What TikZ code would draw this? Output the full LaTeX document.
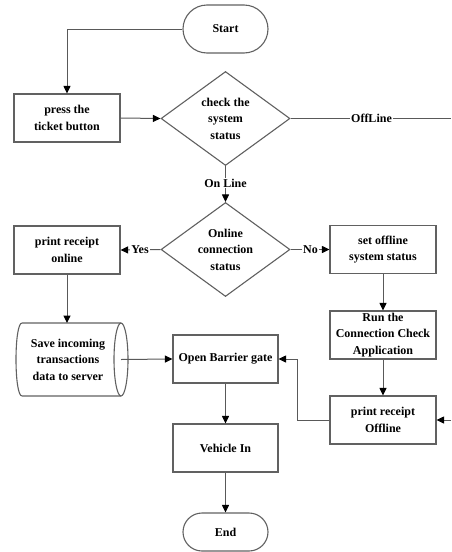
\documentclass[tikz,border=0pt]{standalone}
\usepackage{fontspec}
\setmainfont{Liberation Serif}[BoldFont={Liberation Serif Bold}]
\usetikzlibrary{shapes.geometric,arrows.meta}
\tikzset{
  txt/.style={font=\fontsize{12}{16.5}\selectfont\bfseries},
  base/.style={txt, draw=black!62, line width=1.1pt, align=center, inner sep=0pt},
  proc/.style={base, rectangle, minimum width=106pt, minimum height=48pt},
  term/.style={base, rectangle, minimum width=85pt},
  dec/.style={base, diamond, aspect=1.4, minimum width=129pt, minimum height=94pt},
  conn/.style={draw=black!65, line width=1pt},
  arr/.style={conn, -{Triangle[length=7.5pt,width=7pt,color=black]}},
  lab/.style={txt, fill=white, inner sep=1pt}
}
\begin{document}
\begin{tikzpicture}[x=1pt,y=-1pt]
\useasboundingbox (0,0) rectangle (451,552);
\fill[white] (0,0) rectangle (451,552);

% nodes
\node[term, minimum height=48pt, rounded corners=24pt] (start) at (225.5,29) {Start};
\node[proc] (press) at (67,118) {press the\\ticket button};
\node[dec] (check) at (225.5,118.5) {check the\\system\\status};
\node[dec] (online) at (225.5,249.5) {Online\\connection\\status};
\node[proc] (printon) at (67,250) {print receipt\\online};
\node[proc] (setoff) at (383,249.5) {set offline\\system status};
\node[proc] (run) at (383,335) {Run the\\Connection Check\\Application};
\node[proc] (printoff) at (383,420) {print receipt\\Offline};
\node[proc, minimum width=105pt] (open) at (225.5,359) {Open Barrier gate};
\node[proc, minimum width=105pt] (vehicle) at (225.5,448) {Vehicle In};
\node[term, minimum height=38pt, rounded corners=19pt] (end) at (225.5,532) {End};

% stored data cylinder
\draw[draw=black!62, line width=1.1pt]
  (22,323) -- (121,323)
  (22,396) -- (121,396)
  (22,323) .. controls (14,323) and (14,396) .. (22,396);
\draw[draw=black!62, line width=1.1pt] (121,359.5) ellipse [x radius=7, y radius=36.5];
\node[txt, align=center, inner sep=0pt] (save) at (68,359.5) {Save incoming\\transactions\\data to server};
\coordinate (savetop) at (67,323);
\coordinate (savec) at (121,359.5);
\coordinate (offend) at (451,118.5);
\coordinate (inright) at (451,420);

% connectors
\draw[arr] (start.west) -| (press.north);
\draw[arr] (press.east) -- (check.west);
\draw[conn] (check.east) -- (offend);
\node[lab] (offlab) at (371.5,118.5) {OffLine};
\draw[arr] (check.south) -- (online.north);
\node[lab] (onlab) at (225.5,183) {On Line};
\draw[arr] (online.west) -- (printon.east);
\node[lab] (yeslab) at (140,249.5) {Yes};
\draw[arr] (online.east) -- (setoff.west);
\node[lab] (nolab) at (310.5,249.5) {No};
\draw[arr] (printon.south) -- (savetop);
\draw[arr] (savec) -- (open.west);
\draw[arr] (open.south) -- (vehicle.north);
\draw[arr] (vehicle.south) -- (end.north);
\draw[arr] (setoff.south) -- (run.north);
\draw[arr] (run.south) -- (printoff.north);
\draw[arr] (inright) -- (printoff.east);
\draw[arr] (printoff.west) -- ++(-32,0) |- (open.east);
\end{tikzpicture}
\end{document}
